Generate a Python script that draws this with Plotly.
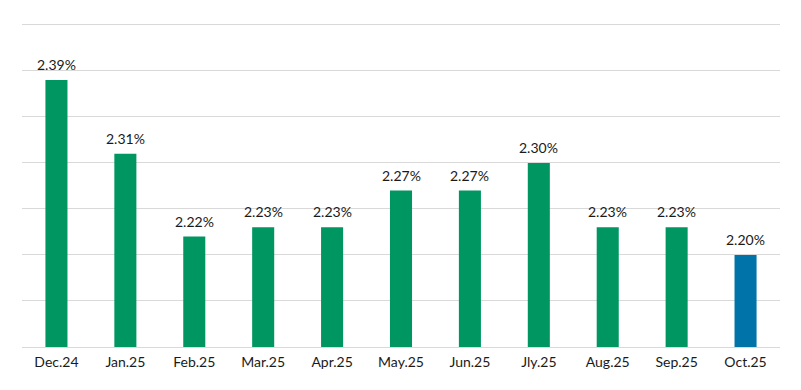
import plotly.graph_objects as go

categories = ["Dec.24", "Jan.25", "Feb.25", "Mar.25", "Apr.25", "May.25", "Jun.25", "Jly.25", "Aug.25", "Sep.25", "Oct.25"]
values = [2.39, 2.31, 2.22, 2.23, 2.23, 2.27, 2.27, 2.30, 2.23, 2.23, 2.20]
labels = [f"{v:.2f}%" for v in values]
colors = ["#009661"] * 10 + ["#0073A9"]

fig = go.Figure(go.Bar(
    x=categories, y=values, marker=dict(color=colors, line=dict(width=0)),
    width=0.32,
))
for c, v, t in zip(categories, values, labels):
    fig.add_annotation(x=c, y=v, text=t, showarrow=False, yanchor="bottom",
                       yshift=5, font=dict(size=14, color="#1a1a1a", family="Lato"))
fig.update_layout(
    width=801, height=390, paper_bgcolor="white", plot_bgcolor="white",
    margin=dict(l=22, r=21, t=23, b=43),
    showlegend=False,
    font=dict(family="Lato", size=14, color="#1a1a1a"),
    xaxis=dict(showgrid=False, showline=True, linecolor="#d9d9d9", linewidth=1,
               ticks="", ticklabelstandoff=2, tickfont=dict(size=14, color="#1a1a1a")),
    yaxis=dict(range=[2.10, 2.452], tickmode="array",
               tickvals=[2.10, 2.15, 2.20, 2.25, 2.30, 2.35, 2.40, 2.45],
               showticklabels=False,
               gridcolor="#d9d9d9", gridwidth=1, zeroline=False, ticks=""),
)
fig.write_html("out.html", config={"displayModeBar": False},
               post_script="document.body.style.margin='0';")
